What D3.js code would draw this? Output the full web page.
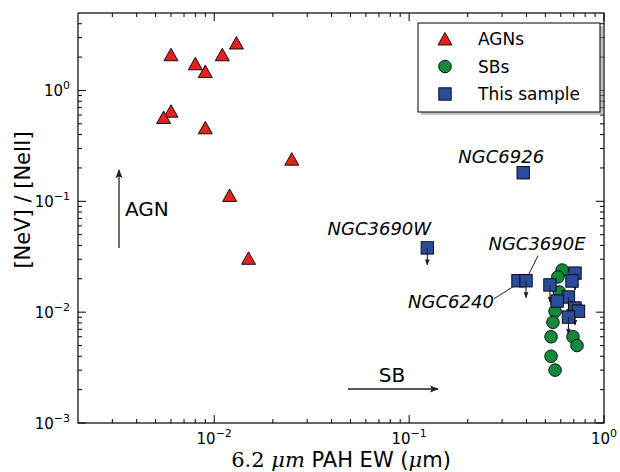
<!DOCTYPE html>
<html>
<head>
<meta charset="utf-8">
<script src="https://cdn.jsdelivr.net/npm/d3@7"></script>
<style>
    body { margin: 0; background: #fff; }
    #chart { width: 620px; height: 472px; }
    text { font-family: "DejaVu Sans", sans-serif; fill: #000; }
</style>
</head>
<body>
<div id="chart"></div>
<script>

/*
DATA
x = 6.2 micron PAH equivalent width, y = [NeV]/[NeII]
*/
const agnEW    = [0.006, 0.008, 0.009, 0.011, 0.013, 0.006, 0.0055, 0.009, 0.025, 0.012, 0.015];
const agnRatio = [2.1, 1.74, 1.48, 2.1, 2.68, 0.65, 0.57, 0.46, 0.24, 0.113, 0.0306];

const sbEW    = [0.61, 0.58, 0.59, 0.574, 0.561, 0.547, 0.535, 0.693, 0.727, 0.535, 0.561];
const sbRatio = [0.024, 0.0208, 0.0152, 0.0123, 0.0102, 0.0081, 0.006, 0.006, 0.005, 0.004, 0.003];

const sampleName  = ["NGC6926", "NGC3690W", "NGC6240", "NGC3690E", "", "", "", "", "", "", "", ""];
const sampleEW    = [0.385, 0.124, 0.362, 0.398, 0.71, 0.685, 0.528, 0.657, 0.575, 0.71, 0.74, 0.657];
const sampleRatio = [0.181, 0.038, 0.0192, 0.0192, 0.0225, 0.0191, 0.0176, 0.0137, 0.0126, 0.0109, 0.0102, 0.00903];
const sampleUpper = [false, true, false, true, true, false, true, true, false, true, false, true];

const xMajor = [0.01, 0.1, 1];
const yMajor = [0.001, 0.01, 0.1, 1];
const xLabels = ["-2", "-1", "0"];
const yLabels = ["-3", "-2", "-1", "0"];

const legendNames = ["AGNs", "SBs", "This sample"];

/* label placement, pixel offsets from the point */
const labelPos = {
    "NGC6926":  { dx: -22, dy: -10 },
    "NGC3690W": { dx: -48, dy: -13 },
    "NGC3690E": { dx: 11,  dy: -31, line: [12, -25, 2, -5] },
    "NGC6240":  { dx: -67, dy: 27,  line: [-24, 18, -5, 6] }
};

/*
SVG AND SCALES
*/
const width = 620, height = 472;
const margin = { top: 13, right: 16, bottom: 49, left: 78 };

const svg = d3.select("#chart").append("svg")
    .attr("width", width)
    .attr("height", height);

const x = d3.scaleLog().domain([0.002, 1]).range([margin.left, width - margin.right]);
const y = d3.scaleLog().domain([0.001, 5]).range([height - margin.bottom, margin.top]);

const red = "#e3211f", green = "#12893b", blue = "#2b4c9c";

function minors(domain) {
    let out = [];
    for (let e = -4; e <= 1; e++) {
        for (let m = 2; m <= 9; m++) {
            let v = m * Math.pow(10, e);
            if (v > domain[0] * 1.0001 && v < domain[1] * 0.9999) out.push(v);
        }
    }
    return out;
}

/* AXES: ticks inside on all four sides */
const x0 = margin.left, x1 = width - margin.right;
const y0 = height - margin.bottom, y1 = margin.top;

const axisG = svg.append("g");

function drawTicks(vals, len) {
    vals.forEach(v => {
        axisG.append("line").attr("x1", x(v)).attr("x2", x(v)).attr("y1", y0).attr("y2", y0 - len);
        axisG.append("line").attr("x1", x(v)).attr("x2", x(v)).attr("y1", y1).attr("y2", y1 + len);
    });
}
function drawYTicks(vals, len) {
    vals.forEach(v => {
        axisG.append("line").attr("y1", y(v)).attr("y2", y(v)).attr("x1", x0).attr("x2", x0 + len);
        axisG.append("line").attr("y1", y(v)).attr("y2", y(v)).attr("x1", x1).attr("x2", x1 - len);
    });
}
drawTicks(xMajor, 8);
drawTicks(minors(x.domain()), 4);
drawYTicks(yMajor, 8);
drawYTicks(minors(y.domain()), 4);
axisG.selectAll("line").attr("stroke", "#000").attr("stroke-width", 1);

axisG.append("rect")
    .attr("x", x0).attr("y", y1)
    .attr("width", x1 - x0).attr("height", y0 - y1)
    .attr("fill", "none").attr("stroke", "#000").attr("stroke-width", 1.2);

/* tick labels with superscripts */
xMajor.forEach((v, i) => {
    let t = svg.append("text")
        .attr("x", x(v)).attr("y", y0 + 21)
        .attr("text-anchor", "middle")
        .attr("font-size", 15);
    t.append("tspan").text("10");
    t.append("tspan").attr("font-size", 11).attr("dy", -7).text(xLabels[i].replace("-", "\u2212"));
});
yMajor.forEach((v, i) => {
    let t = svg.append("text")
        .attr("x", x0 - 8).attr("y", y(v) + 6)
        .attr("text-anchor", "end")
        .attr("font-size", 15);
    t.append("tspan").text("10");
    t.append("tspan").attr("font-size", 11).attr("dy", -7).text(yLabels[i].replace("-", "\u2212"));
});

/* axis titles */
svg.append("text")
    .attr("transform", "translate(30,200) rotate(-90)")
    .attr("text-anchor", "middle")
    .attr("font-size", 21)
    .text("[NeV] / [NeII]");

const xt = svg.append("text")
    .attr("x", (x0 + x1) / 2).attr("y", 467)
    .attr("text-anchor", "middle")
    .attr("font-size", 21);
xt.append("tspan").attr("font-family", "DejaVu Serif").text("6.2 ");
xt.append("tspan").attr("font-family", "DejaVu Serif").attr("font-style", "italic").text("\u03bcm");
xt.append("tspan").text(" PAH EW (");
xt.append("tspan").attr("font-family", "DejaVu Serif").attr("font-style", "italic").text("\u03bc");
xt.append("tspan").text("m)");

/* DIRECTION ARROWS */
const defs = svg.append("defs");
defs.append("marker")
    .attr("id", "head").attr("viewBox", "0 0 10 10")
    .attr("refX", 9).attr("refY", 5)
    .attr("markerWidth", 9).attr("markerHeight", 9)
    .attr("markerUnits", "userSpaceOnUse")
    .attr("orient", "auto")
    .append("path").attr("d", "M0,1 L10,5 L0,9 L2,5 Z").attr("fill", "#222");

defs.append("marker")
    .attr("id", "small").attr("viewBox", "0 0 10 10")
    .attr("refX", 9).attr("refY", 5)
    .attr("markerWidth", 6).attr("markerHeight", 6)
    .attr("markerUnits", "userSpaceOnUse")
    .attr("orient", "auto")
    .append("path").attr("d", "M0,1 L10,5 L0,9 Z").attr("fill", "#222");

svg.append("line")
    .attr("x1", 119).attr("y1", 248).attr("x2", 119).attr("y2", 170)
    .attr("stroke", "#222").attr("stroke-width", 1.3).attr("marker-end", "url(#head)");
svg.append("text").attr("x", 125).attr("y", 216)
    .attr("font-family", "Open Sans").attr("font-size", 20).attr("fill", "#222").text("AGN");

svg.append("line")
    .attr("x1", 348).attr("y1", 389).attr("x2", 438).attr("y2", 389)
    .attr("stroke", "#222").attr("stroke-width", 1.3).attr("marker-end", "url(#head)");
svg.append("text").attr("x", 392).attr("y", 382).attr("text-anchor", "middle")
    .attr("font-family", "Open Sans").attr("font-size", 20).attr("fill", "#222").text("SB");

/* MARKERS */
const triPath = "M0,-6.5 L-7,6 L7,6 Z";

const agn = agnEW.map((d, i) => ({ ew: d, r: agnRatio[i] }));
const sb = sbEW.map((d, i) => ({ ew: d, r: sbRatio[i] }));
const sample = sampleEW.map((d, i) => ({ ew: d, r: sampleRatio[i], up: sampleUpper[i], name: sampleName[i] }));

svg.append("g").selectAll("path")
    .data(agn).enter().append("path")
    .attr("d", triPath)
    .attr("transform", d => `translate(${x(d.ew)},${y(d.r)})`)
    .attr("fill", red).attr("stroke", "#000").attr("stroke-width", 0.9);

svg.append("g").selectAll("circle")
    .data(sb).enter().append("circle")
    .attr("cx", d => x(d.ew)).attr("cy", d => y(d.r)).attr("r", 6.3)
    .attr("fill", green).attr("stroke", "#000").attr("stroke-width", 0.9);

const sq = svg.append("g").selectAll("g")
    .data(sample).enter().append("g")
    .attr("transform", d => `translate(${x(d.ew)},${y(d.r)})`);

sq.append("rect")
    .attr("x", -6.2).attr("y", -6.2).attr("width", 12.4).attr("height", 12.4)
    .attr("fill", blue).attr("stroke", "#000").attr("stroke-width", 0.9);

sq.filter(d => d.up).append("line")
    .attr("x1", 0).attr("y1", 0).attr("x2", 0).attr("y2", 17)
    .attr("stroke", "#222").attr("stroke-width", 1.1)
    .attr("marker-end", "url(#small)");

/* NAME LABELS */
sample.filter(d => d.name !== "").forEach(d => {
    let p = labelPos[d.name];
    let px = x(d.ew), py = y(d.r);
    svg.append("text")
        .attr("x", px + p.dx).attr("y", py + p.dy)
        .attr("text-anchor", "middle")
        .attr("font-family", "Open Sans").attr("font-style", "italic")
        .attr("font-size", 18).attr("fill", "#222")
        .text(d.name);
    if (p.line) {
        svg.append("line")
            .attr("x1", px + p.line[0]).attr("y1", py + p.line[1])
            .attr("x2", px + p.line[2]).attr("y2", py + p.line[3])
            .attr("stroke", "#222").attr("stroke-width", 1);
    }
});

/* LEGEND */
const lg = svg.append("g").attr("transform", "translate(418,23)");
lg.append("rect").attr("x", 3).attr("y", 3).attr("width", 182).attr("height", 89)
    .attr("fill", "#999").attr("opacity", 0.6);
lg.append("rect").attr("width", 182).attr("height", 89)
    .attr("fill", "#fff").attr("stroke", "#000").attr("stroke-width", 1);

legendNames.forEach((name, i) => {
    let ry = 16 + i * 27.5;
    if (i === 0) {
        lg.append("path").attr("d", triPath).attr("transform", `translate(27,${ry})`)
            .attr("fill", red).attr("stroke", "#000").attr("stroke-width", 0.9);
    } else if (i === 1) {
        lg.append("circle").attr("cx", 27).attr("cy", ry).attr("r", 6.3)
            .attr("fill", green).attr("stroke", "#000").attr("stroke-width", 0.9);
    } else {
        lg.append("rect").attr("x", 27 - 6.2).attr("y", ry - 6.2).attr("width", 12.4).attr("height", 12.4)
            .attr("fill", blue).attr("stroke", "#000").attr("stroke-width", 0.9);
    }
    lg.append("text").attr("x", 60).attr("y", ry + 6)
        .attr("font-size", 17).text(name);
});

</script>
</body>
</html>
